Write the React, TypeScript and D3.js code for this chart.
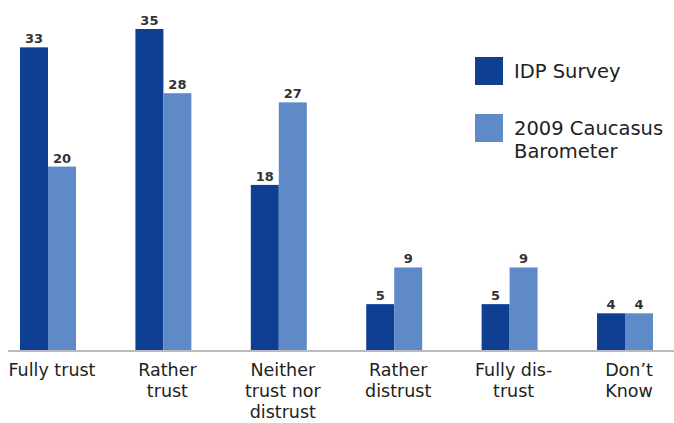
import React from "react";
import * as d3 from "d3";

const categories = ["Fully trust", "Rather trust", "Neither trust nor distrust", "Rather distrust", "Fully dis-trust", "Don’t Know"];
const categoryLines = [["Fully trust"], ["Rather", "trust"], ["Neither", "trust nor", "distrust"], ["Rather", "distrust"], ["Fully dis-", "trust"], ["Don’t", "Know"]];
const idpSurvey = [33, 35, 18, 5, 5, 4];
const caucasusBarometer = [20, 28, 27, 9, 9, 4];
const seriesNames = ["IDP Survey", "2009 Caucasus Barometer"];
const seriesLegendLines = [["IDP Survey"], ["2009 Caucasus", "Barometer"]];

const W = 674;
const H = 423;
const DARK = "#0f3f92";
const LIGHT = "#5f8ac8";
const FONT = "'DejaVu Sans', sans-serif";

export default function App() {
  const baseline = 350;
  const x0 = d3.scaleBand<string>().domain(categories).range([-9.7, 682.7]).paddingInner(0.515).paddingOuter(0.2575);
  const x1 = d3.scaleBand<number>().domain([0, 1]).range([0, x0.bandwidth()]);
  const y = d3.scaleLinear().domain([0, 35]).range([baseline, 29]);
  const series = [idpSurvey, caucasusBarometer];
  const colors = [DARK, LIGHT];

  return (
    <svg width={W} height={H} style={{ position: "absolute", left: 0, top: 0, background: "#fff" }} fontFamily={FONT}>
      {categories.map((c, i) => (
        <g key={c} transform={`translate(${x0(c)},0)`}>
          {series.map((s, si) => (
            <g key={si}>
              <rect x={x1(si)} y={y(s[i])} width={x1.bandwidth()} height={baseline - y(s[i])} fill={colors[si]} />
              <text x={(x1(si) as number) + x1.bandwidth() / 2} y={y(s[i]) - 4} textAnchor="middle" fontSize={13} fontWeight="bold" fill="#333">
                {s[i]}
              </text>
            </g>
          ))}
        </g>
      ))}
      <line x1={8} x2={W} y1={baseline + 1} y2={baseline + 1} stroke="#bbbbbf" strokeWidth={2} />
      {categories.map((c, i) => (
        <text key={c} x={(x0(c) as number) + x0.bandwidth() / 2 + 4} textAnchor="middle" fontSize={17.5} fill="#222">
          {categoryLines[i].map((ln, li) => (
            <tspan key={li} x={(x0(c) as number) + x0.bandwidth() / 2 + 4} y={376 + li * 21}>{ln}</tspan>
          ))}
        </text>
      ))}
      {seriesNames.map((n, si) => (
        <g key={n} transform={`translate(475,${57 + si * 57})`}>
          <rect width={28} height={28} fill={colors[si]} />
          {seriesLegendLines[si].map((ln, li) => (
            <text key={li} x={39} y={21 + li * 23} fontSize={19.5} fill="#222">{ln}</text>
          ))}
        </g>
      ))}
    </svg>
  );
}
